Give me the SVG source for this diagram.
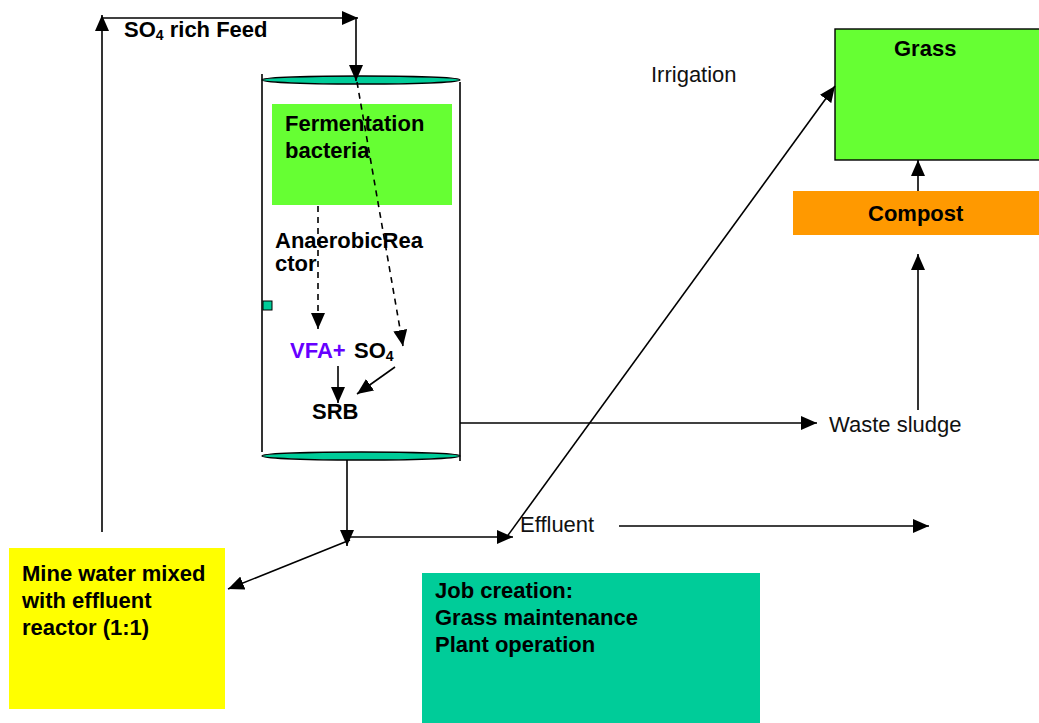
<svg xmlns="http://www.w3.org/2000/svg" width="1039" height="723" viewBox="0 0 1039 723">
<defs>
<marker id="ah" markerUnits="userSpaceOnUse" markerWidth="16" markerHeight="14" viewBox="0 0 16 14" refX="16" refY="7" orient="auto"><path d="M0,0 L16,7 L0,14 Z" fill="#000"/></marker>
<style>
.b{font-family:"Liberation Sans",Arial,sans-serif;font-weight:bold;font-size:22px;fill:#000}
.n{font-family:"Liberation Sans",Arial,sans-serif;font-size:22px;fill:#111}
.ln{stroke:#000;stroke-width:1.6;fill:none}
.ar{stroke:#000;stroke-width:1.6;fill:none;marker-end:url(#ah)}
.da{stroke:#000;stroke-width:1.6;fill:none;stroke-dasharray:6,5;marker-end:url(#ah)}
</style>
</defs>
<rect width="1039" height="723" fill="#fff"/>
<g id="reactor">
<line class="ln" x1="262" y1="74" x2="262" y2="452"/>
<line class="ln" x1="460" y1="82" x2="460" y2="461"/>
<ellipse cx="361" cy="80" rx="99" ry="4" fill="#00CC99" stroke="#000" stroke-width="1.4"/>
<ellipse cx="361" cy="456" rx="99" ry="4" fill="#00CC99" stroke="#000" stroke-width="1.4"/>
<rect x="263" y="301" width="9" height="9" fill="#00CC99" stroke="#000" stroke-width="1"/>
<text class="b" x="275" y="248">AnaerobicRea</text>
<text class="b" x="275" y="271">ctor</text>
</g>
<g id="fermentation">
<rect x="272" y="104" width="180" height="101" fill="#66FF33"/>
<text class="b" x="285" y="131">Fermentation</text>
<text class="b" x="285" y="158">bacteria</text>
</g>
<g id="vfa"><text class="b" x="290" y="358" style="fill:#6600FF">VFA+</text></g>
<g id="so4"><text class="b" x="354" y="358">SO<tspan font-size="14" dy="3">4</tspan></text></g>
<g id="srb"><text class="b" x="312" y="419">SRB</text></g>
<g id="feed"><text class="b" x="124" y="37">SO<tspan font-size="14" dy="3">4</tspan><tspan dy="-3"> rich Feed</tspan></text></g>
<g id="irrigation"><text class="n" x="651" y="82">Irrigation</text></g>
<g id="grass">
<rect x="835" y="29" width="210" height="131" fill="#66FF33" stroke="#000" stroke-width="1.4"/>
<text class="b" x="894" y="56">Grass</text>
</g>
<g id="compost">
<rect x="793" y="191" width="250" height="44" fill="#FF9900"/>
<text class="b" x="868" y="221">Compost</text>
</g>
<g id="waste"><text class="n" x="829" y="432">Waste sludge</text></g>
<g id="effluent"><text class="n" x="520" y="532">Effluent</text></g>
<g id="minewater">
<rect x="9" y="548" width="216" height="161" fill="#FFFF00"/>
<text class="b" x="22" y="581">Mine water mixed</text>
<text class="b" x="22" y="608">with effluent</text>
<text class="b" x="22" y="635">reactor (1:1)</text>
</g>
<g id="jobs">
<rect x="422" y="573" width="338" height="150" fill="#00CC99"/>
<text class="b" x="435" y="598">Job creation:</text>
<text class="b" x="435" y="625">Grass maintenance</text>
<text class="b" x="435" y="652">Plant operation</text>
</g>
<g id="connectors">
<line class="ar" x1="102" y1="532" x2="102" y2="15"/>
<line class="ar" x1="101" y1="18" x2="358" y2="18"/>
<line class="ar" x1="356" y1="17" x2="356" y2="81"/>
<line class="da" x1="357" y1="82" x2="403" y2="346"/>
<line class="da" x1="318" y1="206" x2="318" y2="329"/>
<line class="ar" x1="338" y1="366" x2="338" y2="403"/>
<line class="ar" x1="395" y1="367" x2="357" y2="394"/>
<line class="ar" x1="460" y1="423" x2="817" y2="423"/>
<line class="ar" x1="918" y1="410" x2="918" y2="254"/>
<line class="ar" x1="918" y1="191" x2="918" y2="160"/>
<line class="ar" x1="347" y1="460" x2="347" y2="546"/>
<line class="ar" x1="350" y1="537" x2="513" y2="537"/>
<line class="ar" x1="350" y1="540" x2="228" y2="589"/>
<line class="ar" x1="506" y1="538" x2="835" y2="86"/>
<line class="ar" x1="619" y1="526" x2="929" y2="526"/>
</g>
</svg>
